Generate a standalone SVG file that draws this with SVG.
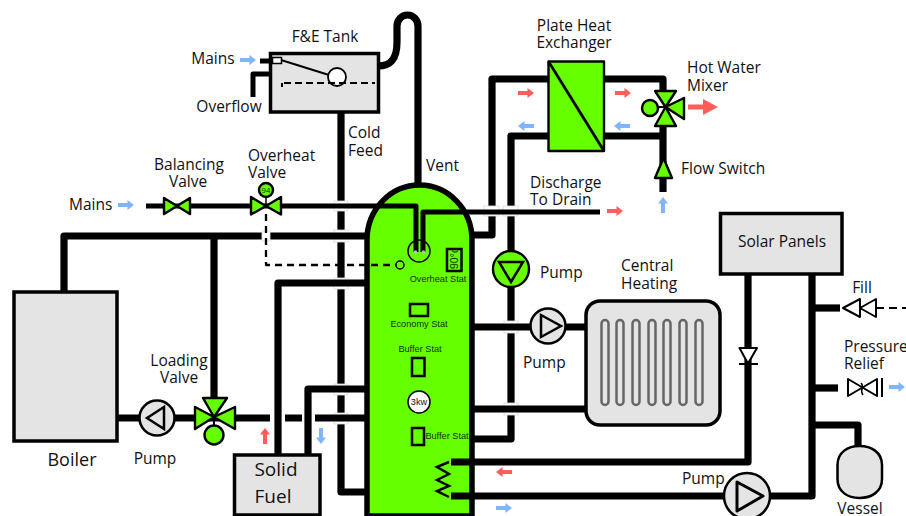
<svg xmlns="http://www.w3.org/2000/svg" width="906" height="516" viewBox="0 0 906 516">
<style>
text{font-family:"Open Sans","Liberation Sans",sans-serif;font-size:15.5px;fill:#111}
.m{text-anchor:middle}
.s{font-family:"Liberation Sans",Arial,sans-serif;font-size:9.2px;fill:#143000;text-anchor:middle}
.p,.t,.d{fill:none;stroke:#000;stroke-linejoin:round}
.p{stroke-width:7.2}
.t{stroke-width:5}
.d{stroke-width:2.3;stroke-dasharray:7 5}
.gap{fill:#fff;stroke:#ddd;stroke-width:.8}
.box{fill:#e4e4e4;stroke:#000;stroke-width:3.5}
.g{fill:#66ff00;stroke:#000;stroke-width:2.4;stroke-linejoin:round}
.w{fill:#fff;stroke:#000;stroke-width:2;stroke-linejoin:round}
.gy{fill:#e4e4e4;stroke:#000;stroke-width:2.5;stroke-linejoin:round}
.n{fill:none;stroke:#000;stroke-width:2.5}
.fin{fill:#e4e4e4;stroke:#666;stroke-width:2.5}
.r{fill:#ff5c5c}
.b{fill:#80b4ff}
</style>
<defs>
<path id="arrow" d="M-8,-2H1.500V-5L8,0L1.500,5V2H-8Z"/>
</defs>
<g id="cylinder">
<path d="M367,516V240A52.5,55 0 0 1 472,240V516Z" fill="#66ff00" stroke="#000" stroke-width="5.5"/>
<rect x="447" y="249" width="14.500" height="22" fill="none" stroke="#000" stroke-width="2.500"/>
<text transform="translate(457.500,269) rotate(-90)" style="font-family:'Liberation Sans',sans-serif;font-size:10.500px;fill:#143000">90°c</text>
<text class="s" x="438" y="282">Overheat Stat</text>
<rect x="410" y="304" width="18" height="12" fill="none" stroke="#000" stroke-width="2.500"/>
<text class="s" x="419" y="327">Economy Stat</text>
<text class="s" x="420" y="352">Buffer Stat</text>
<rect x="412" y="358" width="12.500" height="18" fill="none" stroke="#000" stroke-width="2.500"/>
<circle cx="419" cy="402" r="11" fill="#fff" stroke="#000" stroke-width="1.500"/>
<text class="s" x="419" y="405" style="fill:#111">3kw</text>
<rect x="412" y="428" width="12" height="17" fill="none" stroke="#000" stroke-width="2.500"/>
<text class="s" x="447" y="439">Buffer Stat</text>
</g>
<g id="connectors">
<path class="p" d="M341,112V492H365"/>
<path class="p" d="M378,66C393,66 397,56 397,42V26A10.500,11 0 0 1 418,26V184"/>
<rect class="gap" x="334" y="201" width="14" height="10"/>
<rect class="gap" x="334" y="230" width="14" height="12"/>
<rect class="gap" x="334" y="278" width="14" height="11"/>
<rect class="gap" x="334" y="384" width="14" height="11"/>
<rect class="gap" x="334" y="413" width="14" height="11"/>
<path class="p" d="M64,291V236H365"/>
<path class="p" d="M214,236V400"/>
<path class="p" d="M117,418H270M285,418H302M315,418H365"/>
<path class="p" d="M278,455V283H365"/>
<path class="p" d="M308,455V389H365"/>
<path class="t" d="M146,206H416V252"/>
<path class="t" d="M260,61H271"/>
<path class="t" d="M253,97V74H271"/>
<rect class="gap" x="262" y="231" width="8" height="10"/>
<path class="d" d="M266,214V265H397"/>
<path class="p" d="M472,235H492V79H548"/>
<path class="p" d="M604,79H663V92"/>
<path class="p" d="M511,251V136H548"/>
<path class="p" d="M604,136H663"/>
<path class="p" d="M663,123V192"/>
<path class="p" d="M511,286V439H472"/>
<rect class="gap" x="484" y="206" width="15" height="10"/>
<rect class="gap" x="503" y="206" width="15" height="10"/>
<rect class="gap" x="504" y="321" width="14" height="12"/>
<rect class="gap" x="504" y="403" width="14" height="12"/>
<path class="t" d="M423,252V212H600"/>
<path class="p" d="M472,327H586"/>
<path class="p" d="M472,409H586"/>
<path class="p" d="M451,462H748V274"/>
<path class="p" d="M451,496H812V274"/>
<path class="p" d="M812,308H840"/>
<path class="p" d="M812,388H838"/>
<path class="p" d="M812,425H858V446"/>
</g>
<g id="overheat-stat">
<circle cx="419" cy="251" r="11" fill="none" stroke="#000" stroke-width="1.500"/>
<circle cx="415.500" cy="252" r="1.800" fill="#bbb"/>
<circle cx="423.500" cy="252" r="1.800" fill="#bbb"/>
<circle cx="400" cy="265" r="4" fill="#66ff00" stroke="#000" stroke-width="1.500"/>
</g>
<g id="coil">
<path d="M449,462L437,467L449,474L437,480L449,486L437,491L449,497" fill="none" stroke="#000" stroke-width="2.500"/>
</g>
<g id="fe-tank">
<rect class="box" x="270.500" y="53.500" width="108" height="58.500" stroke-width="3"/>
<rect x="272.500" y="57.500" width="9" height="6" fill="#fff" stroke="#000" stroke-width="1.500"/>
<path d="M281,60L329,75" stroke="#000" stroke-width="2" fill="none"/>
<circle cx="337" cy="77" r="9" fill="#fff" stroke="#000" stroke-width="1.800"/>
<path d="M282,87V83" fill="none" stroke="#000" stroke-width="2"/>
<path d="M284,83H375" fill="none" stroke="#000" stroke-width="2" stroke-dasharray="7 4"/>
<text class="m" x="325" y="42">F&amp;E Tank</text>
</g>
<g id="mains-top"><text class="m" x="213" y="64">Mains</text><use href="#arrow" class="b" transform="translate(248,60)"/></g>
<g id="overflow"><text class="m" x="229" y="112">Overflow</text></g>
<g id="cold-feed"><text x="348" y="138">Cold</text><text x="348" y="156">Feed</text></g>
<g id="vent"><text x="426" y="171">Vent</text></g>
<g id="mains-left"><text x="69" y="210">Mains</text><use href="#arrow" class="b" transform="translate(126,205)"/></g>
<g id="balancing-valve">
<path class="g" d="M164,198L177,206L164,214ZM190,198L177,206L190,214Z"/>
<text class="m" x="189" y="170">Balancing</text><text class="m" x="188" y="187">Valve</text>
</g>
<g id="overheat-valve">
<path d="M266,197V206" stroke="#000" stroke-width="1.500"/>
<path class="g" d="M251,197L266,206L251,214.500ZM281,197L266,206L281,214.500Z"/>
<circle class="g" cx="266" cy="190" r="7" stroke-width="1.500"/>
<text class="m" x="266" y="193" style="font-family:'Liberation Sans',sans-serif;font-size:8px;fill:#143000">94</text>
<text x="248" y="161">Overheat</text><text x="248" y="178">Valve</text>
</g>
<g id="boiler">
<rect class="box" x="14" y="292" width="103" height="149" stroke-width="4"/>
<text class="m" x="72" y="466" style="font-size:18px">Boiler</text>
</g>
<g id="boiler-pump">
<circle class="gy" cx="157" cy="418" r="17.500"/>
<path class="n" d="M164,407V429L147,418Z"/>
<text class="m" x="155" y="464">Pump</text>
</g>
<g id="loading-valve">
<path d="M214,417V430" stroke="#000" stroke-width="2"/>
<path class="g" d="M195,407L214,417L195,429ZM235,407L214,417L235,429ZM203,398H227L214,417Z"/>
<circle class="g" cx="214" cy="435" r="9.500"/>
<text class="m" x="179" y="366">Loading</text><text class="m" x="179" y="383">Valve</text>
</g>
<g id="solid-fuel">
<rect class="box" x="234.500" y="455" width="85.500" height="60" stroke-width="3"/>
<text class="m" x="276" y="476" style="font-size:19px">Solid</text>
<text class="m" x="273" y="503" style="font-size:19px">Fuel</text>
</g>
<g id="heat-exchanger">
<rect class="g" x="548.500" y="61.500" width="55.500" height="89.500" stroke-width="2.800"/>
<path d="M548.500,61.500L604,151" stroke="#000" stroke-width="2.800"/>
<text class="m" x="574" y="31">Plate Heat</text><text class="m" x="574" y="48">Exchanger</text>
</g>
<g id="mixer-valve">
<path d="M655,107H666" stroke="#000" stroke-width="2"/>
<path class="g" d="M655,91H676L665.500,107ZM655,126H676L665.500,107ZM684,98V119L665.500,107Z"/>
<circle class="g" cx="650" cy="108" r="8"/>
<text x="687" y="73">Hot Water</text><text x="687" y="91">Mixer</text>
<path class="r" d="M688,104.500H703V99L718,107L703,115V109.500H688Z"/>
</g>
<g id="flow-switch">
<path class="g" d="M655,178H672L663.500,158Z"/>
<text x="681" y="174">Flow Switch</text>
<use href="#arrow" class="b" transform="translate(663,205) rotate(-90)"/>
</g>
<g id="discharge">
<text x="530" y="188">Discharge</text><text x="530" y="205">To Drain</text>
<use href="#arrow" class="r" transform="translate(615,211)"/>
</g>
<g id="flow-arrows">
<use href="#arrow" class="r" transform="translate(526,93)"/>
<use href="#arrow" class="r" transform="translate(623,93)"/>
<use href="#arrow" class="b" transform="translate(526,126) rotate(180)"/>
<use href="#arrow" class="b" transform="translate(622,126) rotate(180)"/>
<use href="#arrow" class="r" transform="translate(265,436) rotate(-90)"/>
<use href="#arrow" class="b" transform="translate(321,436) rotate(90)"/>
<use href="#arrow" class="r" transform="translate(504,472) rotate(180)"/>
<use href="#arrow" class="b" transform="translate(504,508)"/>
</g>
<g id="hw-pump">
<circle class="g" cx="511" cy="269" r="18" stroke-width="2.800"/>
<path class="n" d="M499,262H523L511,282Z"/>
<text x="540" y="278">Pump</text>
</g>
<g id="ch-pump">
<circle class="gy" cx="548" cy="326" r="17.500"/>
<path class="n" d="M541,315V337L561,326Z"/>
<text x="523" y="368">Pump</text>
</g>
<g id="central-heating">
<rect class="box" x="586" y="301" width="134" height="124" rx="14" stroke-width="4"/>
<rect class="fin" x="601.500" y="320" width="7" height="85" rx="3.500"/>
<rect class="fin" x="616.500" y="320" width="7" height="85" rx="3.500"/>
<rect class="fin" x="632.500" y="320" width="7" height="85" rx="3.500"/>
<rect class="fin" x="648.500" y="320" width="7" height="85" rx="3.500"/>
<rect class="fin" x="663.500" y="320" width="7" height="85" rx="3.500"/>
<rect class="fin" x="679.500" y="320" width="7" height="85" rx="3.500"/>
<rect class="fin" x="695.500" y="320" width="7" height="85" rx="3.500"/>
<text x="621" y="271">Central</text><text x="621" y="289">Heating</text>
</g>
<g id="solar-panels">
<rect class="box" x="720.500" y="213.500" width="121.500" height="60.500" stroke-width="3"/>
<text class="m" x="782" y="247">Solar Panels</text>
</g>
<g id="check-valve">
<path class="w" d="M739.500,348H757L748,363.500Z"/>
<path d="M739,364H758" stroke="#000" stroke-width="2"/>
</g>
<g id="fill">
<path class="w" d="M843,308L860,299V317ZM860,308L876,299V317Z"/>
<path d="M876,308H906" fill="none" stroke="#000" stroke-width="2" stroke-dasharray="8 5"/>
<text class="m" x="862" y="293">Fill</text>
</g>
<g id="pressure-relief">
<path class="w" d="M848,379L877,396V379L848,396Z"/>
<path d="M861,383C865,386 859,390 863,395" fill="none" stroke="#000" stroke-width="1.500"/>
<path d="M882,378V397" stroke="#000" stroke-width="2"/>
<text x="844" y="352">Pressure</text><text x="844" y="369">Relief</text>
<use href="#arrow" class="b" transform="translate(897,387)"/>
</g>
<g id="solar-pump">
<circle class="gy" cx="747" cy="496" r="23" stroke-width="3"/>
<path d="M737,482V511L763,496Z" fill="none" stroke="#000" stroke-width="3" stroke-linejoin="round"/>
<text x="682" y="484">Pump</text>
</g>
<g id="vessel">
<path class="gy" d="M837.500,465C837.500,452 848,446 859.500,446C871,446 882,452 882,465V479C882,492 871,498 859.500,498C848,498 837.500,492 837.500,479Z"/>
<text class="m" x="860" y="514">Vessel</text>
</g>
</svg>
